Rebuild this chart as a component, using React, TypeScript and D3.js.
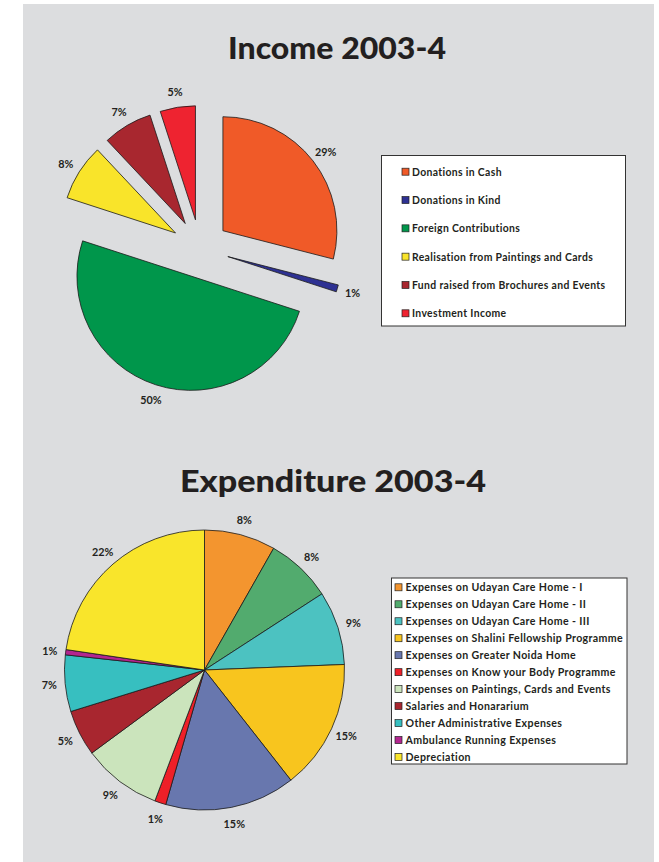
import React from "react";
import * as d3 from "d3";

const incomeLabels = [
  "Donations in Cash",
  "Donations in Kind",
  "Foreign Contributions",
  "Realisation from Paintings and Cards",
  "Fund raised from Brochures and Events",
  "Investment Income",
];
const incomeValues = [29, 1, 50, 8, 7, 5];
const incomePct = ["29%", "1%", "50%", "8%", "7%", "5%"];
const incomeColors = ["#F05A28", "#2E3192", "#00964B", "#F9E42A", "#A8272F", "#EE2330"];

const expLabels = [
  "Expenses on Udayan Care Home - I",
  "Expenses on Udayan Care Home - II",
  "Expenses on Udayan Care Home - III",
  "Expenses on Shalini Fellowship Programme",
  "Expenses on Greater Noida Home",
  "Expenses on Know your Body Programme",
  "Expenses on Paintings, Cards and Events",
  "Salaries and Honararium",
  "Other Administrative Expenses",
  "Ambulance Running Expenses",
  "Depreciation",
];
const expValues = [8.2, 7.6, 8.5, 15.0, 15.0, 1.3, 9.1, 5.3, 6.5, 0.6, 22.6];
const expPct = ["8%", "8%", "9%", "15%", "15%", "1%", "9%", "5%", "7%", "1%", "22%"];
const expColors = [
  "#F3952F", "#52AB6E", "#4CC2C1", "#F8C51E", "#6877AE", "#EE2028",
  "#CBE4BC", "#A8262F", "#37BFC0", "#B3268F", "#F9E52B",
];

const FONT = "Lato, 'Open Sans', sans-serif";
const INK = "#231F20";

function IncomePie() {
  const cx = 200, cy = 248.5, r = 114, explode = 29, labelR = 130;
  const pie = d3.pie<number>().sort(null).startAngle(0).endAngle(2 * Math.PI);
  const arcs = pie(incomeValues);
  const arc = d3.arc<d3.PieArcDatum<number>>().innerRadius(0).outerRadius(r);
  return (
    <g>
      {arcs.map((a, i) => {
        const mid = (a.startAngle + a.endAngle) / 2;
        const dx = Math.sin(mid) * explode;
        const dy = -Math.cos(mid) * explode;
        const lx = cx + dx + Math.sin(mid) * labelR;
        const ly = cy + dy - Math.cos(mid) * labelR;
        return (
          <g key={i}>
            <path
              d={arc(a) || ""}
              transform={`translate(${cx + dx},${cy + dy})`}
              fill={incomeColors[i]}
              stroke="#1a1a1a"
              strokeWidth={0.8}
              strokeLinejoin="round"
            />
            <text x={lx} y={ly} textAnchor="middle" dominantBaseline="central"
              fontFamily={FONT} fontWeight={700} fontSize={10.8} fill={INK}>
              {incomePct[i]}
            </text>
          </g>
        );
      })}
    </g>
  );
}

function ExpPie() {
  const cx = 204.5, cy = 670, r = 140, labelR = 156;
  const pie = d3.pie<number>().sort(null).startAngle(0).endAngle(2 * Math.PI);
  const arcs = pie(expValues);
  const arc = d3.arc<d3.PieArcDatum<number>>().innerRadius(0).outerRadius(r);
  return (
    <g transform={`translate(${cx},${cy})`}>
      {arcs.map((a, i) => (
        <path key={i} d={arc(a) || ""} fill={expColors[i]} stroke="#1a1a1a"
          strokeWidth={0.8} strokeLinejoin="round" />
      ))}
      {arcs.map((a, i) => {
        const mid = (a.startAngle + a.endAngle) / 2;
        return (
          <text key={"l" + i} x={Math.sin(mid) * labelR} y={-Math.cos(mid) * labelR}
            textAnchor="middle" dominantBaseline="central"
            fontFamily={FONT} fontWeight={700} fontSize={10.8} fill={INK}>
            {expPct[i]}
          </text>
        );
      })}
    </g>
  );
}

function Legend({ x, y, w, h, labels, colors, rowY0, rowStep, swX, txtX, fs, ls }: any) {
  return (
    <g>
      <rect x={x} y={y} width={w} height={h} fill="#fff" stroke="#333" strokeWidth={1} />
      {labels.map((t: string, i: number) => {
        const yy = rowY0 + i * rowStep;
        return (
          <g key={i}>
            <rect x={swX} y={yy - 3.5} width={7} height={7} fill={colors[i]} stroke="#222" strokeWidth={0.7} />
            <text x={txtX} y={yy} dominantBaseline="central" fontFamily={FONT}
              fontWeight={700} fontSize={fs} letterSpacing={ls} fill={INK}>{t}</text>
          </g>
        );
      })}
    </g>
  );
}

export default function App() {
  return (
    <div style={{ position: "absolute", left: 0, top: 0 }}>
      <svg width={659} height={862} style={{ display: "block" }}>
        <rect x={0} y={0} width={659} height={862} fill="#fff" />
        <rect x={23} y={4} width={631} height={858} fill="#DCDDDF" />
        <text x={337} y={59} textAnchor="middle" fontFamily={FONT} fontWeight={900}
          fontSize={30} fill={INK} textLength={218} lengthAdjust="spacingAndGlyphs">Income 2003-4</text>
        <IncomePie />
        <Legend x={381.5} y={155.5} w={244} h={170.5} labels={incomeLabels} colors={incomeColors}
          rowY0={171.7} rowStep={28.32} swX={402} txtX={412} fs={10.4} ls={0.35} />
        <text x={333} y={491.5} textAnchor="middle" fontFamily={FONT} fontWeight={900}
          fontSize={30} fill={INK} textLength={306} lengthAdjust="spacingAndGlyphs">Expenditure 2003-4</text>
        <ExpPie />
        <Legend x={391.5} y={578} w={235.5} h={186} labels={expLabels} colors={expColors}
          rowY0={587.3} rowStep={16.97} swX={395} txtX={405.5} fs={10.6} ls={0.38} />
      </svg>
    </div>
  );
}
